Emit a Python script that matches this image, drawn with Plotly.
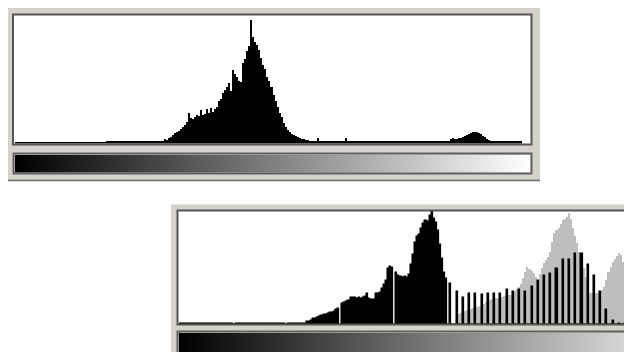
import plotly.graph_objects as go

W, H = 632, 352

# ---------------- data ----------------
levels = list(range(256))

# Upper histogram (256 tonal levels, relative counts)
hist_top = (
    [1] * 45 + [2] * 29 +
    [4, 3, 5, 6, 8, 10, 11, 12, 14, 16, 18, 21, 30, 25, 24, 26, 28, 27, 33, 28,
     29, 34, 30, 35, 31, 34, 36, 42, 44, 50, 53, 56, 60, 52, 73, 69, 66, 62, 61, 80,
     84, 92, 97, 123, 106, 101, 98, 93, 85, 78, 74, 66, 62, 56, 48, 42, 36, 30, 26, 20,
     16, 13, 11, 9, 8, 7, 6, 5, 4, 4, 3, 3] +
    [2] * 4 + [5] + [2] * 13 + [5] + [2] * 51 +
    [4, 5, 4, 4, 5, 5, 6, 7, 8, 9, 10, 11, 11, 11, 10, 9, 7, 6, 4, 3] +
    [2] * 16 + [0] * 4
)

# Lower histogram: current (black) levels 0..218
hist_bottom_black = (
    [1] * 26 + [0] + [1] * 24 + [0] + [1] * 9 +
    [3, 3, 4, 6, 6, 7, 8, 9, 10, 10, 11, 12, 12, 13, 15, 16, 0, 21, 22, 23,
     24, 27, 27, 27, 26, 27, 26, 27, 28, 31, 26, 25, 25, 31, 31, 32, 36, 40, 44, 56,
     58, 57, 0, 52, 49, 48, 47, 48, 47, 50, 60, 70, 82, 88, 90, 96, 101, 104, 103, 109,
     113, 106, 102, 94, 80, 66, 52, 46, 0] +
    [41, 0, 0, 33, 0, 0, 27, 0, 0, 31, 0, 0, 31, 0, 0, 30, 0, 0, 31, 0, 0,
     31, 0, 0, 31, 0, 0, 35, 0, 0, 33, 0, 0, 35, 0, 0, 33, 0, 0, 38, 0, 0,
     44, 0, 0, 49, 0, 0, 51, 0, 0, 56, 0, 0, 65, 0, 0, 65, 0, 0, 71, 0, 0,
     71, 0, 0, 60, 0, 0, 49, 0, 0, 33, 0, 0, 15, 0, 0, 4, 0, 0, 1, 0, 0, 1] +
    [0] * 4
)

# Lower histogram: previous (grey) levels 0..218
hist_bottom_grey = (
    [0] * 133 +
    [8, 10, 11, 12, 13, 14, 15, 15, 16, 16, 17, 18, 19, 20, 22, 23, 24, 25, 25, 26,
     26, 27, 27, 28, 28, 29, 29, 31, 33, 35, 37, 40, 46, 52, 57, 55, 53, 51, 47, 44,
     50, 56, 61, 64, 67, 72, 82, 91, 94, 96, 100, 104, 105, 107, 111, 105, 96, 88, 81, 72,
     65, 56, 47, 38, 31, 31, 30, 31, 31, 32, 34, 37, 44, 52, 57, 62, 65, 68, 71, 69,
     62, 52, 35, 22, 11, 3]
)

# ---------------- helpers ----------------
OFF = 8  # page body margin of the html page

def px(x):
    return (x - OFF) / W

def py(y):
    return 1 - (y - OFF) / H

PANEL = "#d5d2cc"
FRAME = "#555555"

fig = go.Figure()

fig.add_trace(go.Bar(x=levels[:len(hist_top)], y=hist_top, marker=dict(color="black", line=dict(width=0)),
                     xaxis="x", yaxis="y", hoverinfo="skip"))
fig.add_trace(go.Heatmap(z=[levels], x=levels, y=[0], colorscale=[[0, "#000000"], [1, "#ffffff"]],
                         showscale=False, xaxis="x2", yaxis="y2", hoverinfo="skip"))
fig.add_trace(go.Bar(x=levels[:len(hist_bottom_grey)], y=hist_bottom_grey,
                     marker=dict(color="#bebebe", line=dict(width=0)),
                     xaxis="x3", yaxis="y3", hoverinfo="skip"))
# black histogram: a clean fill, then the same bars with a hairline edge so thin comb lines stay dark
fig.add_trace(go.Bar(x=levels[:len(hist_bottom_black)], y=hist_bottom_black,
                     marker=dict(color="black", line=dict(width=0)),
                     xaxis="x3", yaxis="y3", hoverinfo="skip"))
fig.add_trace(go.Bar(x=levels[:len(hist_bottom_black)], y=hist_bottom_black,
                     marker=dict(color="black", line=dict(width=0.5, color="black")),
                     xaxis="x3", yaxis="y3", hoverinfo="skip"))
fig.add_trace(go.Heatmap(z=[levels], x=levels, y=[0], colorscale=[[0, "#000000"], [1, "#ffffff"]],
                         showscale=False, xaxis="x4", yaxis="y4", hoverinfo="skip"))

ax = dict(visible=False, fixedrange=True)
bw2 = 2.08  # px per level, lower panel
x3_end = -0.5 + (W + OFF - 179) / bw2
fig.update_layout(
    width=W, height=H, margin=dict(l=0, r=0, t=0, b=0),
    paper_bgcolor="white", plot_bgcolor="rgba(0,0,0,0)",
    showlegend=False, barmode="overlay", bargap=0,
    xaxis=dict(ax, domain=[px(15), px(530)], range=[-0.5, 255.5]),
    yaxis=dict(ax, domain=[py(143.5), py(16)], range=[0, 127]),
    xaxis2=dict(ax, domain=[px(15), px(530.5)], range=[-0.5, 255.5]),
    yaxis2=dict(ax, domain=[py(172.5), py(155)], range=[-0.5, 0.5]),
    xaxis3=dict(ax, domain=[px(179), 1], range=[-0.5, x3_end]),
    yaxis3=dict(ax, domain=[py(324), py(211)], range=[0, 113]),
    xaxis4=dict(ax, domain=[px(179), 1], range=[-0.5, x3_end]),
    yaxis4=dict(ax, domain=[0, py(333)], range=[-0.5, 0.5]),
)

shapes = []
def rect(x0, y0, x1, y1, fill=None, line=None, lw=0, layer="below"):
    shapes.append(dict(type="rect", xref="paper", yref="paper",
                       x0=px(x0), x1=px(x1), y0=py(y1), y1=py(y0),
                       fillcolor=fill if fill else "rgba(0,0,0,0)",
                       line=dict(color=line if line else "rgba(0,0,0,0)", width=lw),
                       layer=layer))
def hline(x0, x1, y, color, lw=1, layer="below"):
    shapes.append(dict(type="line", xref="paper", yref="paper",
                       x0=px(x0), x1=px(x1), y0=py(y), y1=py(y),
                       line=dict(color=color, width=lw), layer=layer))

# upper panel
rect(7, 4, 540, 181, fill=PANEL)
hline(7, 540, 180.5, "#6a6a6a", 1.5)
rect(13, 14.5, 531.5, 144.5, fill="white")
rect(13, 14.5, 531.5, 144.5, line=FRAME, lw=2, layer="above")
rect(13.5, 153.5, 531.5, 173.5, line="#606060", lw=2, layer="above")
# lower panel
rect(171, 204.5, 700, 380, fill=PANEL)
rect(177.5, 210.5, 700, 324.5, fill="white")
rect(177.5, 210.5, 700, 324.5, line=FRAME, lw=2, layer="above")
rect(177.5, 331.5, 700, 380, line="#606060", lw=2, layer="above")

fig.update_layout(shapes=shapes)
fig.write_html("out.html")
